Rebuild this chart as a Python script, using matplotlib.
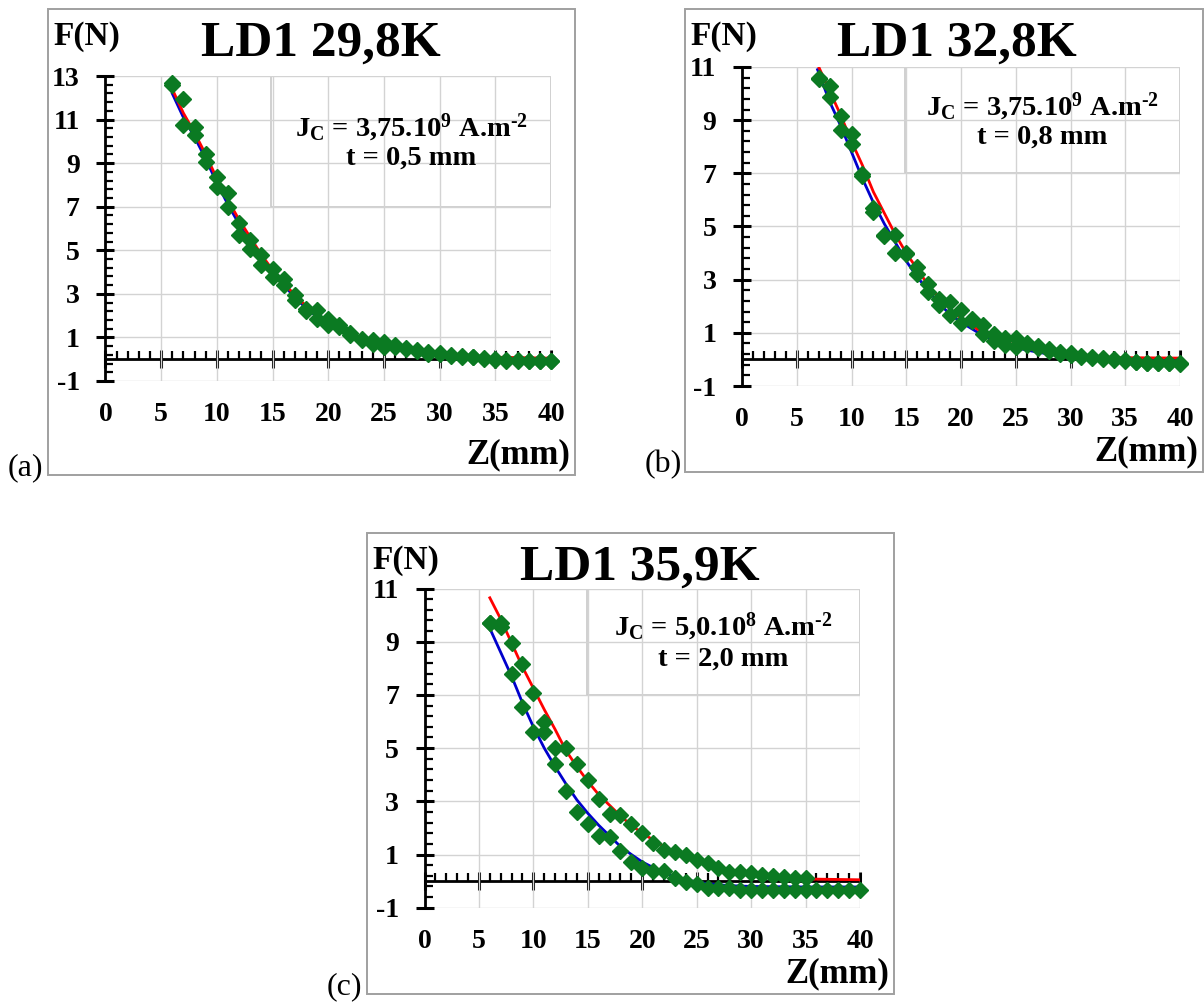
import matplotlib
matplotlib.use("Agg")
import matplotlib.pyplot as plt
import numpy as np
from matplotlib.patches import Rectangle
from matplotlib.transforms import Affine2D
from matplotlib.ticker import MultipleLocator, FixedLocator, NullFormatter

W, H = 1204, 1002

plt.rcParams['font.family'] = 'Liberation Serif'
plt.rcParams['font.weight'] = 'bold'
plt.rcParams['axes.unicode_minus'] = False
plt.rcParams['mathtext.fontset'] = 'custom'
plt.rcParams['mathtext.rm'] = 'Liberation Serif:bold'
plt.rcParams['mathtext.bf'] = 'Liberation Serif:bold'
plt.rcParams['mathtext.it'] = 'Liberation Serif:bold'

# ---- measured points, z in mm (two runs per temperature) ----
z_a = list(range(6, 41))
f_a_up = [12.66, 11.94, 10.67, 9.44, 8.37, 7.64, 6.23, 5.49, 4.77, 4.16, 3.66, 2.94,
          2.30, 2.25, 1.86, 1.56, 1.20, 0.94, 0.87, 0.79, 0.64, 0.52, 0.41, 0.31, 0.29,
          0.20, 0.14, 0.10, 0.05, 0.00, -0.03, -0.05, -0.06, -0.06, -0.07]
f_a_down = [12.60, 10.75, 10.29, 9.06, 7.91, 6.99, 5.69, 5.08, 4.31, 3.78, 3.40, 2.71,
            2.20, 1.86, 1.56, 1.50, 1.12, 0.90, 0.72, 0.56, 0.58, 0.45, 0.36, 0.26, 0.25,
            0.15, 0.10, 0.08, 0.02, -0.03, -0.06, -0.08, -0.08, -0.08, -0.08]

z_b = list(range(7, 41))
f_b_up = [10.60, 10.27, 9.14, 8.49, 6.96, 5.71, 4.69, 4.67, 4.02, 3.48, 2.85, 2.29,
          2.16, 1.87, 1.53, 1.28, 0.97, 0.80, 0.82, 0.62, 0.50, 0.38, 0.27, 0.24, 0.14,
          0.09, 0.05, 0.00, -0.02, -0.08, -0.12, -0.12, -0.12, -0.15]
f_b_down = [10.55, 9.87, 8.62, 8.12, 6.90, 5.55, 4.65, 4.02, 3.95, 3.20, 2.54, 2.03,
            1.66, 1.37, 1.45, 0.97, 0.69, 0.53, 0.47, 0.55, 0.44, 0.30, 0.20, 0.18, 0.10,
            0.05, 0.01, -0.03, -0.05, -0.11, -0.14, -0.14, -0.14, -0.16]

z_c_up = list(range(6, 36))
f_c_up = [9.70, 9.71, 8.95, 8.16, 7.06, 5.97, 5.01, 5.01, 4.40, 3.81, 3.10, 2.51, 2.48,
          2.14, 1.80, 1.45, 1.17, 1.11, 0.98, 0.79, 0.67, 0.48, 0.36, 0.36, 0.29, 0.23,
          0.19, 0.17, 0.13, 0.10]
z_c_down = list(range(6, 41))
f_c_down = [9.71, 9.56, 7.80, 6.54, 5.60, 5.59, 4.40, 3.38, 2.60, 2.15, 1.70, 1.65, 1.13,
            0.73, 0.50, 0.39, 0.39, 0.10, -0.02, -0.11, -0.27, -0.27, -0.27, -0.33, -0.33,
            -0.33, -0.33, -0.33, -0.33, -0.33, -0.33, -0.33, -0.33, -0.33, -0.33]

# ---- model curves (red / blue) ----
zf_a = [6, 7, 8, 9, 10, 11, 12, 13, 14, 15, 16, 17, 18, 19, 20, 22, 24, 26, 28, 30, 34, 40]
red_a = [12.4, 11.3, 10.4, 9.4, 8.3, 7.3, 6.4, 5.6, 4.8, 4.1, 3.5, 2.95, 2.45, 2.05, 1.7,
         1.15, 0.75, 0.5, 0.3, 0.2, 0.1, 0.05]
blue_a = [12.2, 11.1, 10.2, 9.2, 8.1, 7.1, 6.2, 5.4, 4.65, 4.0, 3.4, 2.85, 2.35, 1.95, 1.6,
          1.08, 0.7, 0.45, 0.28, 0.15, 0.05, 0.0]

zf_b = [6.9, 8, 9, 10, 11, 12, 13, 14, 15, 16, 17, 18, 19, 20, 22, 24, 26, 28, 30, 34, 40]
red_b = [11.1, 10.1, 9.2, 8.2, 7.3, 6.3, 5.5, 4.7, 4.0, 3.4, 2.8, 2.3, 1.9, 1.55, 1.0,
         0.65, 0.42, 0.25, 0.15, 0.07, 0.05]
blue_b = [10.9, 9.7, 8.8, 7.8, 6.8, 5.9, 5.1, 4.4, 3.7, 3.1, 2.6, 2.1, 1.7, 1.4, 0.9,
          0.55, 0.35, 0.2, 0.1, 0.02, 0.0]

zf_c = [6, 7, 8, 9, 10, 11, 12, 13, 14, 15, 16, 17, 18, 19, 20, 22, 24, 26, 28, 30, 32, 35, 40]
red_c = [10.65, 9.85, 8.95, 8.05, 7.25, 6.45, 5.7, 4.9, 4.3, 3.75, 3.25, 2.85, 2.45, 2.1,
         1.8, 1.3, 0.9, 0.6, 0.38, 0.25, 0.15, 0.08, 0.05]
blue_c = [9.5, 8.6, 7.7, 6.7, 5.8, 5.0, 4.3, 3.65, 3.05, 2.55, 2.1, 1.7, 1.3, 1.0, 0.72,
          0.3, 0.05, -0.1, -0.17, -0.2, -0.21, -0.22, -0.22]

titles = ["LD1 29,8K", "LD1 32,8K", "LD1 35,9K"]
jc_texts = [r"J$_\mathrm{C}$ = 3,75.10$^\mathrm{9}$ A.m$^{\text{-2}}$",
            r"J$_\mathrm{C}$ = 3,75.10$^\mathrm{9}$ A.m$^{\text{-2}}$",
            r"J$_\mathrm{C}$ = 5,0.10$^\mathrm{8}$ A.m$^{\text{-2}}$"]
t_texts = ["t = 0,5 mm", "t = 0,8 mm", "t = 2,0 mm"]
letters = ["(a)", "(b)", "(c)"]
ymaxs = [13, 11, 11]

GREEN = '#0b7a22'

fig = plt.figure(figsize=(W / 100, H / 100), dpi=100)
px = Affine2D().scale(1 / W, -1 / H).translate(0, 1) + fig.transFigure


def frame(l, t, r, b):
    fig.patches.append(Rectangle((l, b), r - l, t - b, transform=px, fill=False,
                                 edgecolor='#a0a0a0', lw=1.4))


def panel(rect, ymax, runs, fits):
    # lower axes: only the horizontal axis line at F = 0 with its ticks
    ov = fig.add_axes(rect)
    ov.set_xlim(0, 40)
    ov.set_ylim(-1, ymax)
    for s in ['top', 'right', 'left']:
        ov.spines[s].set_visible(False)
    ov.spines['bottom'].set_position(('data', 0))
    ov.spines['bottom'].set_linewidth(2)
    ov.set_yticks([])
    ov.xaxis.set_major_locator(MultipleLocator(5))
    ov.xaxis.set_minor_locator(MultipleLocator(1))
    ov.xaxis.set_major_formatter(NullFormatter())
    ov.tick_params(axis='x', which='major', direction='inout', length=13, width=2.2)
    ov.tick_params(axis='x', which='minor', direction='in', length=6, width=1.6)

    ax = fig.add_axes(rect)
    ax.patch.set_visible(False)
    ax.set_xlim(0, 40)
    ax.set_ylim(-1, ymax)
    ax.xaxis.set_major_locator(MultipleLocator(5))
    ax.yaxis.set_major_locator(FixedLocator(np.arange(-1, ymax + 0.1, 2)))
    ax.yaxis.set_minor_locator(FixedLocator(np.arange(-1, ymax + 0.01, 0.4)))
    ax.grid(True, which='major', color='#d3d3d3', lw=1.0, zorder=0)
    for s in ['top', 'right', 'bottom']:
        ax.spines[s].set_visible(False)
    ax.spines['left'].set_linewidth(2)
    ax.tick_params(axis='y', which='major', direction='inout', length=13, width=2.2,
                   labelsize=20, pad=12)
    ax.tick_params(axis='y', which='minor', direction='in', length=6, width=1.6)
    ax.tick_params(axis='x', which='both', length=0, labelsize=20, pad=15)

    ax.add_patch(Rectangle((14.9, 7.0), 25.1, ymax - 7.0, facecolor='white',
                           edgecolor='#c8c8c8', lw=1.2, zorder=1))
    for zf, red, blue in fits:
        ax.plot(zf, blue, color='#0000cc', lw=2, zorder=3)
        ax.plot(zf, red, color='#ff0000', lw=2, zorder=3)
    for z, f in runs:
        ax.plot(z, f, ls='none', marker='D', ms=8.5, color=GREEN, zorder=4, clip_on=False)
    return ax


# pixel boxes: axes (l, t, r, b) and outer frame
axes_px = [(105.4, 76, 551, 381), (742, 67, 1180, 386), (424.5, 588.5, 860, 907.7)]
frames_px = [(48, 9, 575, 475), (685, 9, 1203, 472), (367, 533, 894, 994)]

runs_all = [[(z_a, f_a_up), (z_a, f_a_down)],
            [(z_b, f_b_up), (z_b, f_b_down)],
            [(z_c_up, f_c_up), (z_c_down, f_c_down)]]
fits_all = [[(zf_a, red_a, blue_a)], [(zf_b, red_b, blue_b)], [(zf_c, red_c, blue_c)]]

text_y = [(0.829, 0.729), (0.875, 0.781), (0.879, 0.779)]

for i in range(3):
    l, t, r, b = axes_px[i]
    frame(*frames_px[i])
    ax = panel([l / W, 1 - b / H, (r - l) / W, (b - t) / H], ymaxs[i],
               runs_all[i], fits_all[i])

    fl, ft, fr, fb = frames_px[i]
    ax.text(27.45 / 40, text_y[i][0], jc_texts[i], transform=ax.transAxes,
            ha='center', va='center', fontsize=20.5, zorder=5)
    ax.text(27.45 / 40, text_y[i][1], t_texts[i], transform=ax.transAxes,
            ha='center', va='center', fontsize=20.5, zorder=5)

    fig.text(l + 215, ft + 35, titles[i], transform=px, ha='center', va='center',
             fontsize=37)
    fig.text(fl + 5, ft + 28, "F(N)", transform=px, ha='left', va='center', fontsize=24)
    fig.text(fr - 5, fb - 20, "Z(mm)", transform=px, ha='right', va='center', fontsize=25)
    fig.text(fl - 40, fb - 7, letters[i], transform=px, ha='left', va='center',
             fontsize=23, fontweight='normal')

fig.savefig("out.png", dpi=100)
